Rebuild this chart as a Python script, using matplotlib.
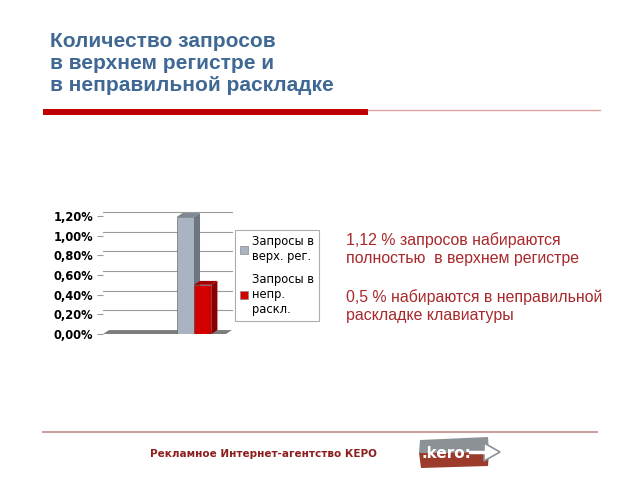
import matplotlib
matplotlib.use("Agg")
import matplotlib.pyplot as plt
from matplotlib.patches import Polygon, Rectangle
from matplotlib.ticker import FuncFormatter

# data
series_names = ["Запросы в\nверх. рег.", "Запросы в\nнепр.\nраскл."]
values = [1.19, 0.50]          # percent, as drawn
bar_colors = ["#a9b3c2", "#d40000"]
side_colors = ["#6e7682", "#8a0000"]
top_colors = ["#7f8793", "#a00000"]
yticks = [0.0, 0.2, 0.4, 0.6, 0.8, 1.0, 1.2]

title = "Количество запросов\nв верхнем регистре и\nв неправильной раскладке"
note1 = "1,12 % запросов набираются\nполностью  в верхнем регистре"
note2 = "0,5 % набираются в неправильной\nраскладке клавиатуры"
footer = "Рекламное Интернет-агентство КЕРО"

fig = plt.figure(figsize=(6.4, 4.8), dpi=100)
W, H = 640, 480

# background layer in pixel coordinates for the slide decorations
bg = fig.add_axes([0, 0, 1, 1])
bg.set_xlim(0, W)
bg.set_ylim(H, 0)
bg.axis("off")

bg.text(50, 32, title, fontsize=15, fontweight="bold", color="#3f6894",
        family="Liberation Sans", va="top", linespacing=1.2)
bg.plot([368, 600], [109.5, 109.5], color="#e2a3a3", lw=1)
bg.add_patch(Rectangle((43, 109), 325, 6, color="#c00000", lw=0))

bg.text(346, 232, note1, fontsize=11.4, color="#a8282b", family="Liberation Sans",
        va="top", linespacing=1.25)
bg.text(346, 289, note2, fontsize=11.4, color="#a8282b", family="Liberation Sans",
        va="top", linespacing=1.25)

bg.plot([43, 597], [432, 432], color="#c9a29e", lw=1.5)
bg.text(150, 454, footer, fontsize=7.5, fontweight="bold", color="#8e1d1d",
        va="center")

# kero logo
bg.add_patch(Polygon([(420, 440), (488, 437), (489, 452), (419, 453)],
                     closed=True, color="#8c9196", lw=0))
bg.add_patch(Polygon([(419, 453), (489, 452), (488, 466), (421, 468)],
                     closed=True, color="#9c3a2c", lw=0))
bg.add_patch(Polygon([(484, 443), (500, 452), (484, 461)], closed=True,
                     facecolor="white", edgecolor="#8c9196", lw=1.2))
bg.plot([470, 486], [452, 452], color="white", lw=2.5)
bg.text(446, 453, ".kero:", fontsize=11, fontweight="bold", color="white",
        ha="center", va="center")

# chart
ax = fig.add_axes([103 / W, 1 - 334 / H, 129 / W, 118 / H])
ax.set_xlim(0, 1)
ax.set_ylim(0, 1.2)
ax.set_yticks(yticks)
ax.yaxis.set_major_formatter(FuncFormatter(lambda v, p: f"{v:.2f}%".replace(".", ",")))
for lab in ax.get_yticklabels():
    lab.set_fontweight("bold")
    lab.set_fontsize(8.3)
ax.tick_params(axis="y", length=4, color="#999999", pad=3)
ax.set_xticks([])
for s in ax.spines.values():
    s.set_visible(False)
ax.set_axisbelow(True)

dx, dy = 0.047, 0.04
for v in yticks[1:]:
    ax.plot([0.0, 1.0], [v + dy, v + dy], color="#9a9a9a", lw=0.8, zorder=0,
            clip_on=False)

# floor
ax.add_patch(Polygon([(0, 0), (1 - dx, 0), (1, dy), (dx, dy)], closed=True,
                     color="#7d7d7d", lw=0, zorder=1, clip_on=False))

width = 0.135
center = 0.705
for i, (v, c) in enumerate(zip(values, bar_colors)):
    x = center + (i - 0.5) * width
    ax.bar(x, v, width, color=c, edgecolor="#555555", lw=0.4, zorder=3)
    left, right = x - width / 2, x + width / 2
    ax.add_patch(Polygon([(right, 0), (right + dx, dy), (right + dx, v + dy), (right, v)],
                         closed=True, color=side_colors[i], lw=0, zorder=2, clip_on=False))
    ax.add_patch(Polygon([(left, v), (left + dx, v + dy), (right + dx, v + dy), (right, v)],
                         closed=True, color=top_colors[i], lw=0, zorder=4, clip_on=False))

handles = [Rectangle((0, 0), 1, 1, facecolor=c, edgecolor="#888888", lw=0.5)
           for c in bar_colors]
leg = fig.legend(handles, series_names, loc="upper left",
                 bbox_to_anchor=(235 / W, 1 - 230 / H), fontsize=8.3,
                 frameon=True, fancybox=False, handlelength=0.7,
                 handleheight=0.7, handletextpad=0.4, borderpad=0.4,
                 labelspacing=0.9, borderaxespad=0)
leg.get_frame().set_edgecolor("#999999")
leg.get_frame().set_linewidth(0.8)

fig.savefig("out.png", dpi=100)
